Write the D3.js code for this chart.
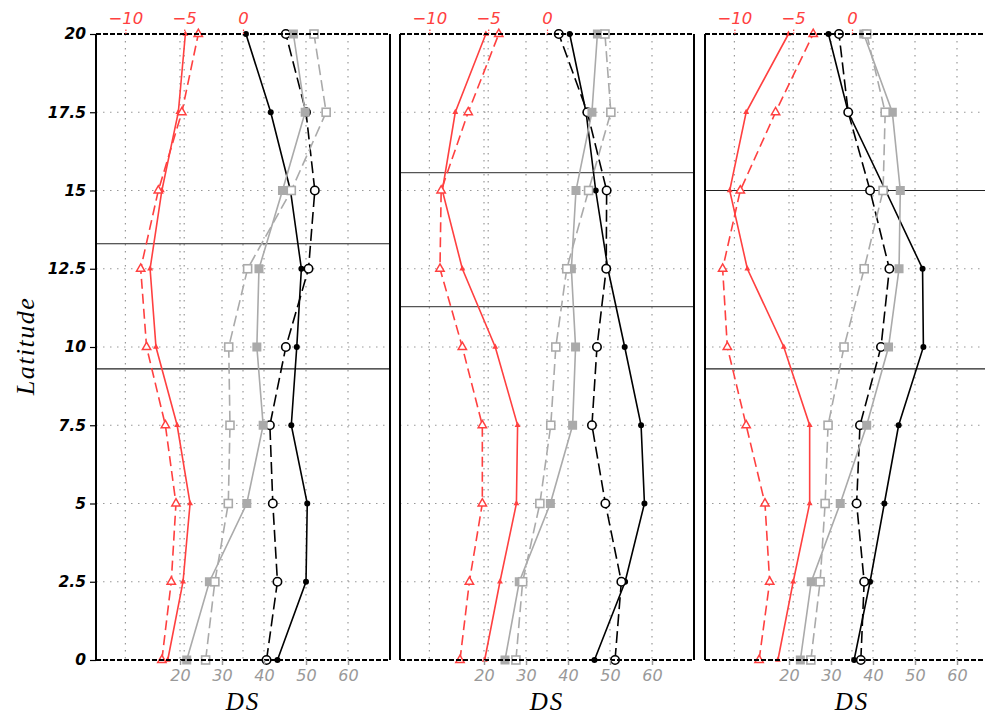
<!DOCTYPE html>
<html><head><meta charset="utf-8">
<script src="https://cdn.jsdelivr.net/npm/d3@7"></script>
<style>body{margin:0;background:#fff}</style>
</head><body><div id="chart"></div>
<script>
const latitudes = [0, 2.5, 5, 7.5, 10, 12.5, 15, 17.5, 20];
const latTicks = [0, 2.5, 5, 7.5, 10, 12.5, 15, 17.5, 20];
const dsTicks = [20, 30, 40, 50, 60];
const redTicks = [-10, -5, 0];

// Panel 1
const p1RedSolid   = [-6.4, -5.1, -4.5, -5.6, -7.4, -7.9, -6.9, -5.5, -4.9];
const p1RedDashed  = [-6.9, -6.1, -5.7, -6.6, -8.2, -8.7, -7.2, -5.2, -3.8];
const p1GreySolid  = [21.6, 27.0, 35.9, 39.8, 38.3, 38.8, 44.4, 49.8, 47.0];
const p1GreyDashed = [26.1, 28.3, 31.5, 31.9, 31.6, 36.1, 46.5, 54.8, 51.9];
const p1BlackSolid = [43.2, 50.0, 50.3, 46.5, 47.8, 48.9, 46.3, 41.6, 35.7];
const p1BlackDashed= [40.6, 43.2, 42.1, 41.4, 45.2, 50.6, 52.1, 50.0, 45.2];
const p1Lines = [13.3, 9.3];
// Panel 2
const p2RedSolid   = [-5.3, -4.0, -2.6, -2.5, -4.4, -7.2, -8.9, -7.8, -5.2];
const p2RedDashed  = [-7.4, -6.6, -5.5, -5.5, -7.2, -9.1, -9.0, -6.7, -4.1];
const p2GreySolid  = [25.0, 28.4, 35.8, 41.1, 41.8, 40.8, 41.9, 45.7, 47.0];
const p2GreyDashed = [27.6, 29.2, 33.3, 35.9, 37.1, 39.7, 44.9, 50.2, 48.8];
const p2BlackSolid = [46.3, 53.6, 58.2, 57.4, 53.5, 49.5, 46.6, 44.3, 40.4];
const p2BlackDashed= [51.2, 52.7, 48.9, 45.7, 46.9, 49.1, 49.2, 44.6, 37.8];
const p2Lines = [15.57, 11.29];
// Panel 3
const p3RedSolid   = [-6.3, -5.0, -3.6, -3.6, -5.8, -8.9, -10.4, -9.0, -5.4];
const p3RedDashed  = [-7.9, -7.0, -7.4, -9.0, -10.6, -11.0, -9.5, -6.5, -3.3];
const p3GreySolid  = [22.7, 25.3, 32.2, 38.5, 43.7, 46.2, 46.5, 44.6, 37.8];
const p3GreyDashed = [25.2, 27.4, 28.6, 29.3, 33.1, 37.9, 42.4, 42.9, 38.5];
const p3BlackSolid = [35.5, 39.3, 42.7, 46.1, 52.0, 51.8, 43.0, 34.1, 29.4];
const p3BlackDashed= [37.1, 37.9, 36.1, 36.9, 41.9, 43.9, 39.3, 34.1, 31.9];
const p3Lines = [15.0, 9.3];

const panels = [
  {rs:p1RedSolid, rd:p1RedDashed, gs:p1GreySolid, gd:p1GreyDashed, bs:p1BlackSolid, bd:p1BlackDashed, lines:p1Lines},
  {rs:p2RedSolid, rd:p2RedDashed, gs:p2GreySolid, gd:p2GreyDashed, bs:p2BlackSolid, bd:p2BlackDashed, lines:p2Lines},
  {rs:p3RedSolid, rd:p3RedDashed, gs:p3GreySolid, gd:p3GreyDashed, bs:p3BlackSolid, bd:p3BlackDashed, lines:p3Lines}
];

const RED = "#ff4040", GREY = "#aaaaaa", BLACK = "#000";
const width = 985, height = 715;
const PW = 294, TOP = 34, BOT = 660;
const lefts = [96, 400, 705];

const svg = d3.select("#chart").append("svg").attr("width", width).attr("height", height)
  .style("background", "#fff");

const y = d3.scaleLinear().domain([0, 20]).range([BOT, TOP]);
const xDS = d3.scaleLinear().domain([0, 70]).range([0, PW]);
const xRed = d3.scaleLinear().domain([-12.5, 12.5]).range([0, PW]);

panels.forEach((p, i) => {
  const g = svg.append("g").attr("transform", `translate(${lefts[i]},0)`);
  const vx = redTicks.map(v => xRed(v)).concat(dsTicks.map(v => xDS(v)));
  g.selectAll(".vg").data(vx).enter().append("line")
    .attr("x1", d => d).attr("x2", d => d).attr("y1", TOP).attr("y2", BOT)
    .attr("stroke", "#999").attr("stroke-width", 1.2).attr("stroke-dasharray", "1.5,5.5");
  g.selectAll(".hg").data(latTicks.slice(1, -1)).enter().append("line")
    .attr("x1", 0).attr("x2", PW).attr("y1", d => y(d)).attr("y2", d => y(d))
    .attr("stroke", "#999").attr("stroke-width", 1.2).attr("stroke-dasharray", "1.5,5.5");
  g.selectAll(".th").data(p.lines).enter().append("line")
    .attr("x1", 0).attr("x2", PW).attr("y1", d => y(d)).attr("y2", d => y(d))
    .attr("stroke", i === 1 ? "#555" : "#222").attr("stroke-width", 1.1);

  const series = [
    {vals:p.bs, x:xDS, color:BLACK, dash:null, marker:"ciS"},
    {vals:p.bd, x:xDS, color:BLACK, dash:"12,5", marker:"ciO"},
    {vals:p.gs, x:xDS, color:GREY, dash:null, marker:"sqS"},
    {vals:p.gd, x:xDS, color:GREY, dash:"11,5", marker:"sqO"},
    {vals:p.rs, x:xRed, color:RED, dash:null, marker:"triS"},
    {vals:p.rd, x:xRed, color:RED, dash:"10,5", marker:"triO"}
  ];
  series.forEach(s => {
    const pts = s.vals.map((v, k) => [s.x(v), y(latitudes[k])]);
    g.append("path").attr("d", d3.line()(pts)).attr("fill", "none")
      .attr("stroke", s.color).attr("stroke-width", 1.6)
      .attr("stroke-dasharray", s.dash);
    const mg = g.append("g");
    pts.forEach(pt => {
      if (s.marker === "triS") {
        mg.append("path").attr("d", d3.symbol(d3.symbolTriangle, 15)())
          .attr("transform", `translate(${pt[0]},${pt[1]})`).attr("fill", s.color);
      } else if (s.marker === "triO") {
        mg.append("path").attr("d", d3.symbol(d3.symbolTriangle, 30)())
          .attr("transform", `translate(${pt[0]},${pt[1]})`).attr("fill", "#fff")
          .attr("stroke", s.color).attr("stroke-width", 1.5);
      } else if (s.marker === "sqS") {
        mg.append("rect").attr("x", pt[0]-4.5).attr("y", pt[1]-4.5).attr("width", 9).attr("height", 9)
          .attr("fill", s.color);
      } else if (s.marker === "sqO") {
        mg.append("rect").attr("x", pt[0]-4).attr("y", pt[1]-4).attr("width", 8).attr("height", 8)
          .attr("fill", "#fff").attr("stroke", s.color).attr("stroke-width", 1.6);
      } else if (s.marker === "ciS") {
        mg.append("circle").attr("cx", pt[0]).attr("cy", pt[1]).attr("r", 3).attr("fill", s.color);
      } else {
        mg.append("circle").attr("cx", pt[0]).attr("cy", pt[1]).attr("r", 4.2)
          .attr("fill", "#fff").attr("stroke", s.color).attr("stroke-width", 1.6);
      }
    });
  });

  g.append("line").attr("x1", 0).attr("x2", 0).attr("y1", TOP).attr("y2", BOT)
    .attr("stroke", "#000").attr("stroke-width", 2);
  g.append("line").attr("x1", PW).attr("x2", PW).attr("y1", TOP).attr("y2", BOT)
    .attr("stroke", "#000").attr("stroke-width", 2);
  [TOP, BOT].forEach(yy => {
    g.append("line").attr("x1", 0).attr("x2", PW).attr("y1", yy).attr("y2", yy)
      .attr("stroke", "#000").attr("stroke-width", 2).attr("stroke-dasharray", "5,2");
  });

  const bx = g.append("g").attr("transform", `translate(0,${BOT})`)
    .call(d3.axisBottom(xDS).tickValues(dsTicks).tickSize(5).tickPadding(5));
  bx.select(".domain").remove();
  bx.selectAll(".tick line").attr("stroke", "#999").attr("stroke-width", 1.5);
  bx.selectAll(".tick text").attr("fill", "#999")
    .style("font-family", "'DejaVu Sans'").style("font-style", "italic").style("font-size", "16px");

  const tx = g.append("g").attr("transform", `translate(0,${TOP})`)
    .call(d3.axisTop(xRed).tickValues(redTicks).tickSize(6).tickPadding(4)
      .tickFormat(d => d < 0 ? "\u2212" + Math.abs(d) : String(d)));
  tx.select(".domain").remove();
  tx.selectAll(".tick line").attr("stroke", RED).attr("stroke-width", 1.2).attr("stroke-dasharray", "1.5,1.5");
  tx.selectAll(".tick text").attr("fill", RED)
    .style("font-family", "'DejaVu Sans'").style("font-style", "italic").style("font-size", "16.5px");

  g.append("text").attr("x", PW/2).attr("y", 710).attr("text-anchor", "middle")
    .style("font-family", "'Liberation Serif'").style("font-style", "italic").style("font-size", "25px")
    .style("letter-spacing", "2px").text("DS");

  if (i === 0) {
    const ly = g.append("g").call(d3.axisLeft(y).tickValues(latTicks).tickSize(6).tickPadding(4)
      .tickFormat(d => String(d)));
    ly.select(".domain").remove();
    ly.selectAll(".tick line").attr("stroke", "#000").attr("stroke-width", 1.2);
    ly.selectAll(".tick text").attr("fill", "#000")
      .style("font-family", "'DejaVu Sans'").style("font-style", "italic").style("font-weight", "bold")
      .style("font-size", "15.5px");
  }
});

svg.append("text").attr("transform", "translate(34,346) rotate(-90)").attr("text-anchor", "middle")
  .style("font-family", "'Liberation Serif'").style("font-style", "italic").style("font-size", "26px")
  .style("letter-spacing", "1.5px").text("Latitude");
</script></body></html>
